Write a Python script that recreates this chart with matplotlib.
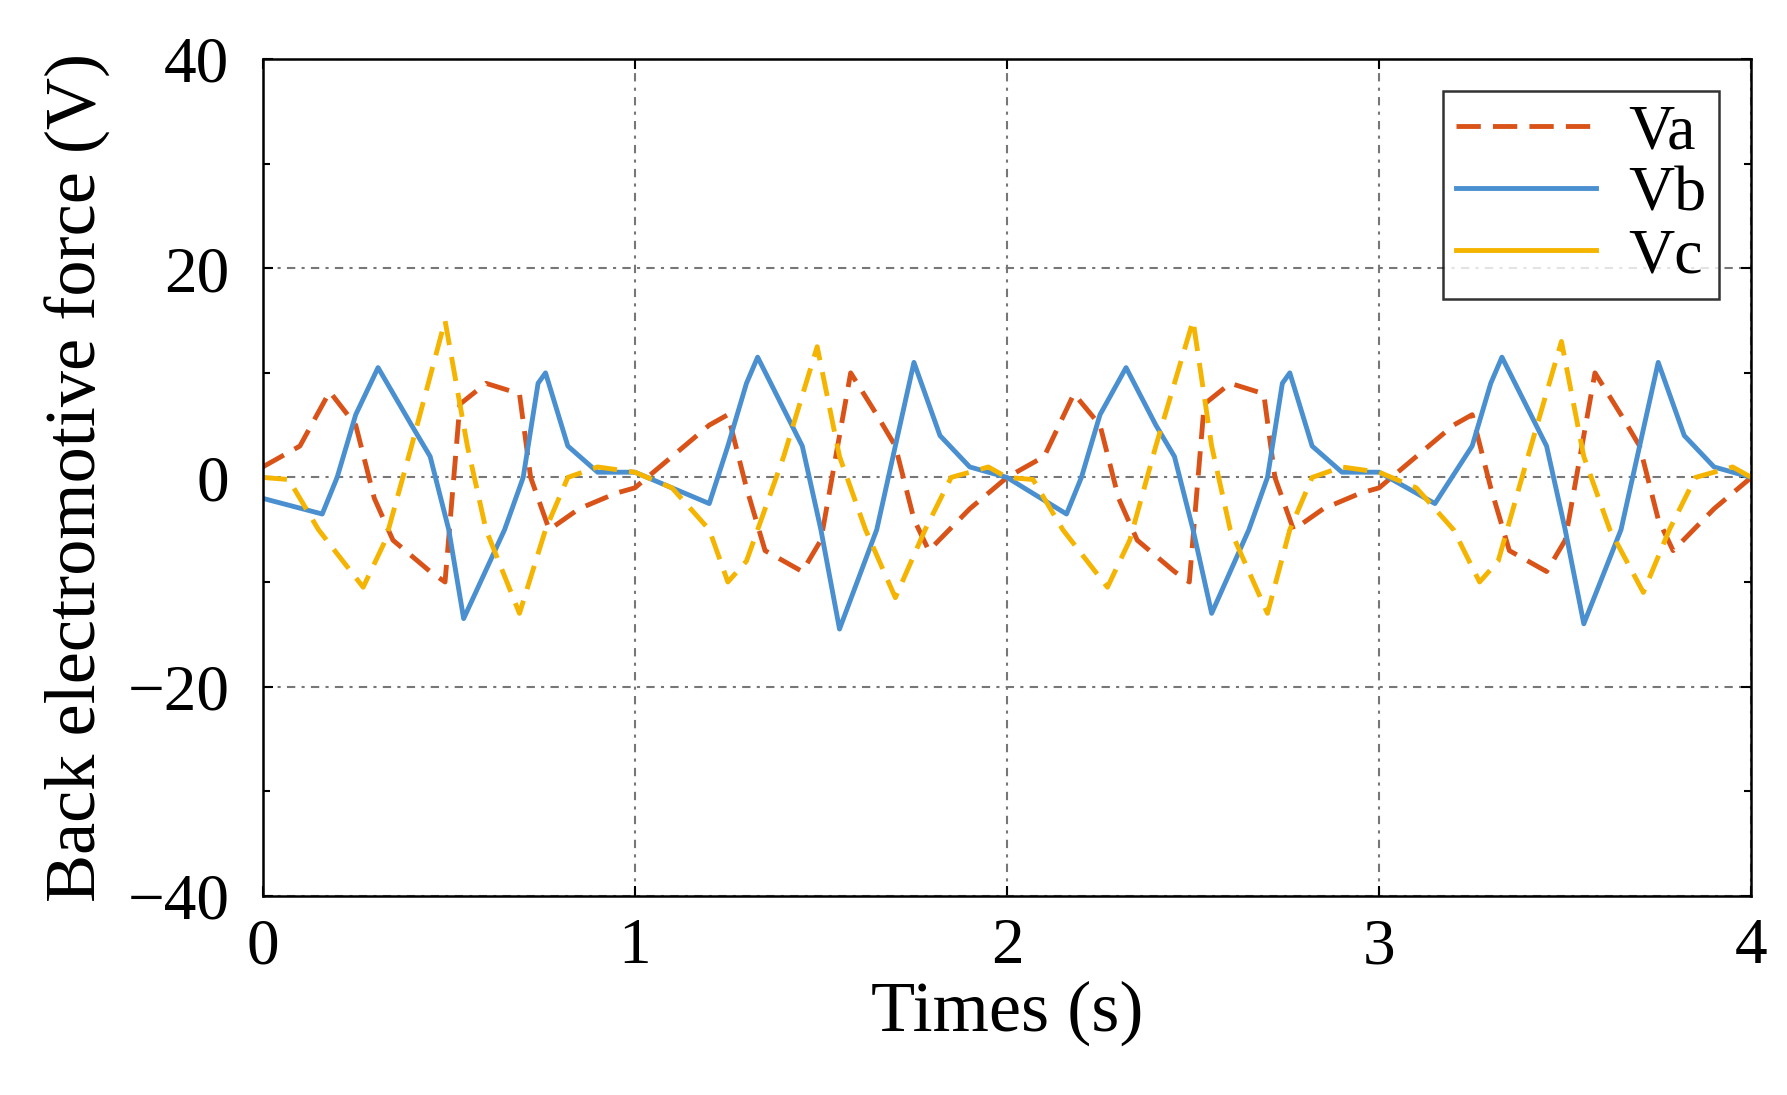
import matplotlib
matplotlib.use("Agg")
import matplotlib.pyplot as plt
from matplotlib.lines import Line2D
import numpy as np

ta = [0,0.1,0.18,0.25,0.3,0.35,0.45,0.49,0.53,0.6,0.69,0.72,0.77,0.85,0.95,
      1.0,1.1,1.2,1.25,1.3,1.35,1.45,1.5,1.58,1.65,1.7,1.75,1.79,1.9,2.0,
      2.1,2.18,2.25,2.3,2.35,2.45,2.49,2.53,2.6,2.69,2.72,2.77,2.85,2.95,
      3.0,3.1,3.2,3.25,3.3,3.35,3.45,3.5,3.58,3.65,3.7,3.75,3.79,3.9,4.0]
va = [1,3,8.2,5,-2,-6,-9,-10,7,9,8,0,-5,-3,-1.5,
      -1,2,5,6,-1,-7,-9,-6,10,6,3,-4,-7,-3,0,
      2,8,5,-2,-6,-9,-10,7,9,8,0,-5,-3,-1.5,
      -1,2,5,6,-1,-7,-9,-6,10,6,3,-4,-7,-3,0]
tb = [0,0.16,0.2,0.25,0.31,0.4,0.45,0.5,0.54,0.65,0.7,0.74,0.76,0.82,0.9,
      1.0,1.2,1.25,1.3,1.33,1.45,1.5,1.55,1.65,1.7,1.75,1.82,1.9,2.0,
      2.16,2.2,2.25,2.32,2.4,2.45,2.5,2.55,2.65,2.7,2.74,2.76,2.82,2.9,
      3.0,3.15,3.25,3.3,3.33,3.45,3.5,3.55,3.65,3.7,3.75,3.82,3.9,4.0]
vb = [-2,-3.5,0,6,10.5,5,2,-5,-13.5,-5,0,9,10,3,0.5,
      0.5,-2.5,3,9,11.5,3,-5,-14.5,-5,3,11,4,1,0,
      -3.5,0,6,10.5,5,2,-5,-13,-5,0,9,10,3,0.5,
      0.5,-2.5,3,9,11.5,3,-5,-14,-5,3,11,4,1,0]
tc = [0,0.07,0.15,0.27,0.33,0.4,0.49,0.55,0.6,0.69,0.76,0.82,0.9,
      1.0,1.1,1.2,1.25,1.3,1.4,1.49,1.55,1.62,1.7,1.78,1.85,1.95,2.0,
      2.07,2.15,2.27,2.33,2.4,2.5,2.55,2.6,2.7,2.76,2.82,2.9,
      3.0,3.1,3.2,3.27,3.32,3.4,3.49,3.55,3.62,3.71,3.78,3.85,3.95,4.0]
vc = [0,-0.2,-5,-10.5,-6,3,15,3,-5,-13,-5,0,1,
      0.5,-1,-5,-10,-8,2,12.5,2,-5,-11.5,-5,0,1,0,
      -0.2,-5,-10.5,-6,3,15,3,-5,-13,-5,0,1,
      0.5,-1,-5,-10,-8,2,13,2,-5,-11,-5,0,1,0]

plt.rcParams['font.family'] = ['Liberation Serif', 'DejaVu Serif']
fig = plt.figure(figsize=(17.87, 10.95), dpi=100)
ax = fig.add_axes([0.147, 0.182, 0.833, 0.764])
red, blue, yel = '#D95319', '#4A90D0', '#F5B400'
ax.plot(ta, va, color=red, lw=3.5, dashes=(5, 2.5))
ax.plot(tb, vb, color=blue, lw=3.5)
ax.plot(tc, vc, color=yel, lw=3.5, dashes=(5, 2.5))
ax.set_xlim(0, 4)
ax.set_ylim(-40, 40)
ax.set_xticks([0, 1, 2, 3, 4])
ax.set_yticks([-40, -20, 0, 20, 40])
ax.set_yticklabels(['\u221240', '\u221220', '0', '20', '40'])
ax.set_yticks(np.arange(-30, 40, 20), minor=True)
ax.tick_params(which='both', direction='in', top=True, right=True, labelsize=47, width=1.5)
ax.tick_params(axis='x', pad=16)
ax.tick_params(axis='y', pad=24)
ax.tick_params(which='major', length=7)
ax.tick_params(which='minor', length=5)
ax.grid(True, which='major', color='#777777', linestyle=(0, (4, 3, 1.5, 3)), lw=1.5)
for s in ax.spines.values():
    s.set_linewidth(1.8)
ax.set_xlabel('Times (s)', fontsize=52, labelpad=2)
ax.set_ylabel('Back electromotive force (V)', fontsize=52, labelpad=12)
handles = [Line2D([], [], color=red, lw=3.5, dashes=(5, 2.5)),
           Line2D([], [], color=blue, lw=3.5),
           Line2D([], [], color=yel, lw=3.5)]
leg = ax.legend(handles, ['Va', 'Vb', 'Vc'], loc='upper right', fontsize=46,
                frameon=True, fancybox=False, edgecolor='black', handlelength=2.2,
                borderaxespad=0.5, labelspacing=0.05, handletextpad=0.5,
                borderpad=0.2)
leg.get_frame().set_linewidth(1.8)
fig.savefig('out.png', dpi=100)
